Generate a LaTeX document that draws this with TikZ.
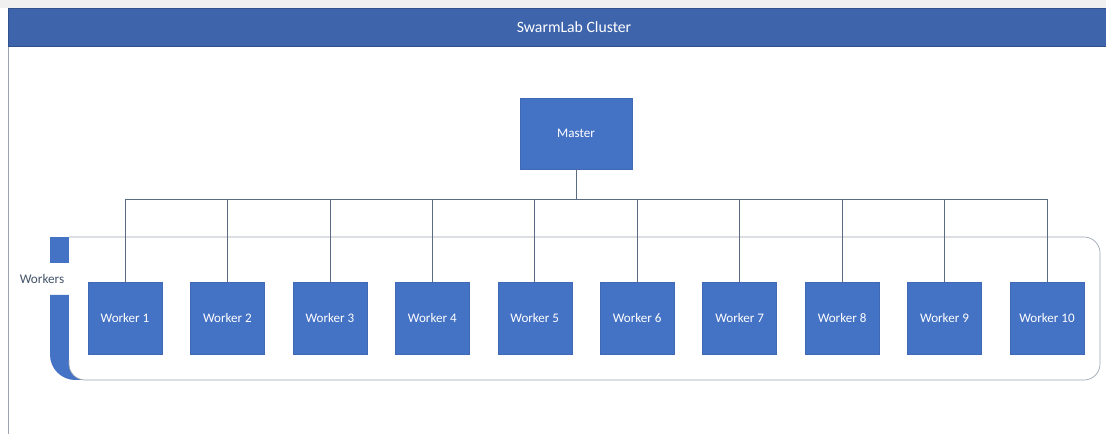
\documentclass[tikz,border=0pt]{standalone}
\usepackage{fontspec}
\setmainfont{Carlito}
\definecolor{boxblue}{HTML}{4472C4}
\definecolor{barblue}{HTML}{3E64AC}
\definecolor{linec}{HTML}{5B6B82}
\definecolor{lbl}{HTML}{44546A}
\definecolor{edge}{HTML}{9AA3B0}
\begin{document}
\begin{tikzpicture}[x=0.75pt,y=-0.75pt,
  wbox/.style={fill=boxblue,draw=boxblue!92!black,line width=0.3pt,minimum width=55.5pt,minimum height=54pt,inner sep=0pt,text=white,font=\fontsize{9.8}{11}\selectfont},
  conn/.style={draw=linec,line width=0.5pt}]
\useasboundingbox (0,0) rectangle (1106,434);
\fill[white] (0,0) rectangle (1106,434);
\fill[black!6] (0,0) rectangle (1106,8);
\draw[edge,line width=0.6pt] (8,8) -- (8,434);
\node[fill=barblue,draw=barblue!80!black,line width=0.4pt,minimum width={1098*0.75pt},minimum height={38*0.75pt},inner sep=0pt,anchor=north west] (bar) at (8,8) {};
\node[text=white,font=\fontsize{11.8}{13}\selectfont] (title) at (574,27) {SwarmLab Cluster};
% workers container
\fill[boxblue] (50,237) rectangle (69,263);
\fill[boxblue,rounded corners=19pt] (50,295) -- (50,380) -- (110,380) -- (110,295) [sharp corners] -- cycle;
\fill[boxblue] (50,295) rectangle (110,340);
\fill[white,rounded corners=12pt] (69,237) rectangle (1100,380);
\fill[white] (69,237) rectangle (90,300);
\draw[edge,line width=0.5pt,rounded corners=12pt] (69,237) -- (1100,237) -- (1100,380) -- (69,380) -- (69,360);
\node[fill=white,inner sep=1pt,text=lbl,font=\fontsize{9.9}{11}\selectfont] (wl) at (42,279) {Workers};
% master
\node[wbox,minimum width=84pt,minimum height=53.25pt] (m) at (576,133.5) {Master};
\foreach \i in {1,...,10}{
  \node[wbox] (w\i) at ({125+(\i-1)*102.44},318) {Worker \i};
}
\coordinate (bus) at (576,199);
\draw[conn] (m.south) -- (bus);
\draw[conn] (w1.north |- bus) -- (w10.north |- bus);
\foreach \i in {1,...,10}{
  \draw[conn] (w\i.north |- bus) -- (w\i.north);
}
\end{tikzpicture}
\end{document}
